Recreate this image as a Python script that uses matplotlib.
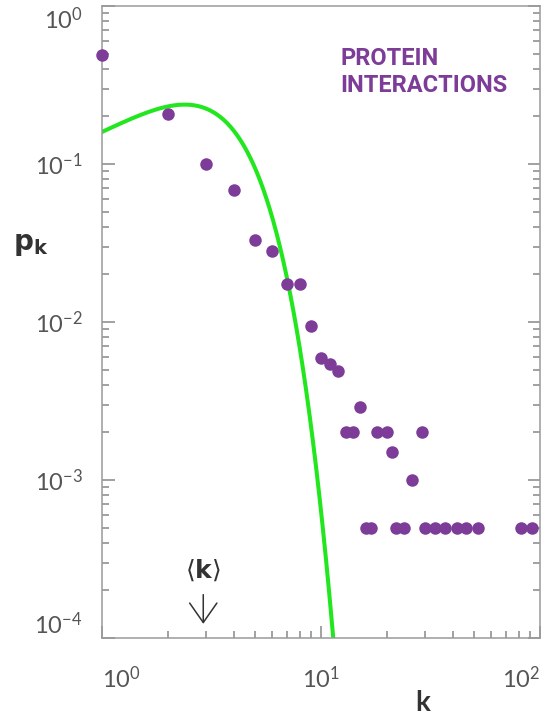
import math
import numpy as np
import matplotlib
matplotlib.use("Agg")
import matplotlib.pyplot as plt
from matplotlib.ticker import LogLocator, NullFormatter

# ---------- DATA ----------
k_values = [1, 2, 3, 4, 5, 6, 7, 8, 9, 10, 11, 12, 13, 14, 15, 16, 17, 18, 20, 21,
            22, 24, 26, 29, 30, 33, 37, 42, 46, 52, 82, 92]
pk_values = [0.49, 0.206, 0.100, 0.068, 0.033, 0.028, 0.0173, 0.0173, 0.0095, 0.0059,
             0.0054, 0.0049, 0.002, 0.002, 0.0029, 0.0005, 0.0005, 0.002, 0.002, 0.0015,
             0.0005, 0.0005, 0.001, 0.002, 0.0005, 0.0005, 0.0005, 0.0005, 0.0005, 0.0005,
             0.0005, 0.0005]
avg_k = 2.9  # <k> used for the Poisson curve
x_ticks = [1, 10, 100]
y_ticks = [1e-4, 1e-3, 1e-2, 1e-1, 1e0]

PURPLE = "#7D3C98"
GREEN = "#22E61E"
AXIS_GRAY = "#9A9A9A"

plt.rcParams["font.family"] = ["Lato", "DejaVu Sans"]
plt.rcParams["axes.unicode_minus"] = False


def poisson(k, lam):
    return np.array([math.exp(-lam + x * math.log(lam) - math.lgamma(x + 1)) for x in k])


fig = plt.figure(figsize=(5.56, 7.18), dpi=100)
ax = fig.add_axes([102 / 556, 80 / 718, 438 / 556, 632 / 718])

# Poisson prediction
kk = np.logspace(0, 2, 400)
ax.plot(kk, poisson(kk, avg_k), color=GREEN, lw=2.9, zorder=2)

# measured degree distribution
ax.plot(k_values, pk_values, "o", color=PURPLE, ms=9, mec="none", zorder=3, clip_on=False)

ax.set_xscale("log")
ax.set_yscale("log")
ax.set_xlim(1, 100)
ax.set_ylim(1e-4, 1)

for s in ax.spines.values():
    s.set_color(AXIS_GRAY)
    s.set_linewidth(1.1)

ax.xaxis.set_minor_locator(LogLocator(base=10, subs=np.arange(2, 10)))
ax.yaxis.set_minor_locator(LogLocator(base=10, subs=np.arange(2, 10), numticks=20))
ax.xaxis.set_minor_formatter(NullFormatter())
ax.yaxis.set_minor_formatter(NullFormatter())
ax.set_xticks(x_ticks)
ax.set_yticks(y_ticks)

ax.tick_params(which="both", direction="in", color="#888888", width=1.1,
               left=True, right=True, bottom=True, top=False,
               labelsize=17, labelcolor="#555555")
ax.tick_params(which="major", length=9)
ax.tick_params(which="minor", length=5)
ax.tick_params(axis="y", which="major", pad=14)
ax.tick_params(axis="x", which="major", pad=20)

xl = ax.get_xticklabels()
xl[0].set_ha("left")
xl[-1].set_ha("right")
yl = ax.get_yticklabels()
yl[0].set_va("bottom")
yl[-1].set_va("top")

# <k> marker with arrow
ax.annotate("", xy=(avg_k, 0.018), xycoords=("data", "axes fraction"),
            xytext=(avg_k, 0.073), textcoords=("data", "axes fraction"),
            arrowprops=dict(arrowstyle="->,head_length=0.5,head_width=0.35",
                            color="#333333", lw=1.1, mutation_scale=28))
ax.text(avg_k, 0.107, r"$\langle\mathbf{k}\rangle$", transform=ax.get_xaxis_transform(),
        ha="center", va="center", fontsize=18, color="#333333")

ax.text(0.545, 0.935, "PROTEIN\nINTERACTIONS", transform=ax.transAxes,
        ha="left", va="top", fontsize=17, fontweight="bold", color=PURPLE,
        family=["Roboto", "DejaVu Sans"], linespacing=1.2)

fig.text(31 / 556, 1 - 245 / 718, r"$\mathbf{p_k}$", ha="center", va="center",
         fontsize=20, color="#333333")
fig.text(423 / 556, 1 - 703 / 718, "k", ha="center", va="center",
         fontsize=20, fontweight="bold", color="#333333")

fig.savefig("out.png", dpi=100)
